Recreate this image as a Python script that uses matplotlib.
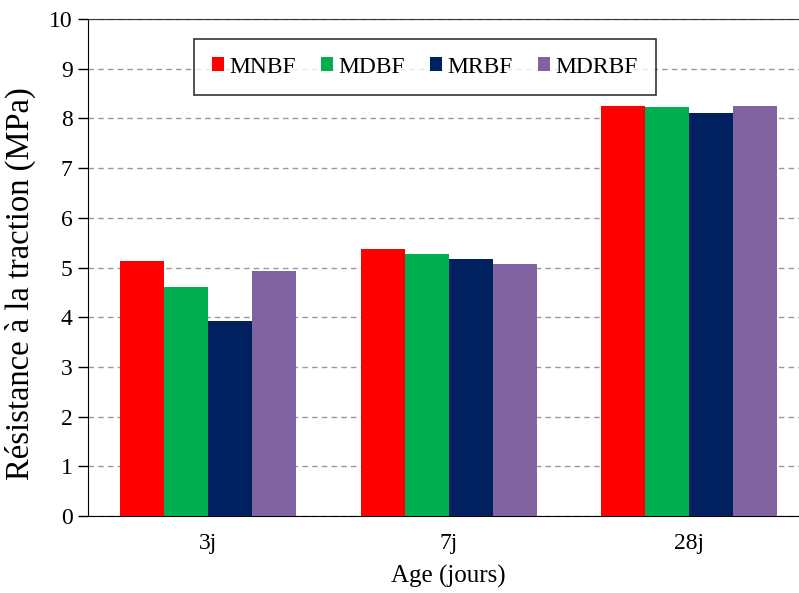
import matplotlib.pyplot as plt
import numpy as np

plt.rc('font', family='Liberation Serif', size=17)

ages = ['3j', '7j', '28j']
series = ['MNBF', 'MDBF', 'MRBF', 'MDRBF']
colors = ['#ff0000', '#00b050', '#002060', '#8064a2']
mnbf = [5.13, 5.37, 8.24]
mdbf = [4.60, 5.27, 8.22]
mrbf = [3.92, 5.18, 8.10]
mdrbf = [4.92, 5.08, 8.24]
values = [mnbf, mdbf, mrbf, mdrbf]

fig = plt.figure(figsize=(7.99, 5.93), dpi=100)
ax = fig.add_axes([88/799, 77/593, 721.5/799, 497/593])

x = np.arange(len(ages))
w = 0.183
for i, (name, vals) in enumerate(zip(series, values)):
    ax.bar(x + (i - 1.5)*w, vals, w, color=colors[i], label=name, zorder=3)

ax.set_xlim(-0.5, 2.5)
ax.set_ylim(0, 10)
ax.set_yticks(range(0, 11))
ax.set_xticks(x)
ax.set_xticklabels(ages)
ax.yaxis.grid(True, color='#999999', linestyle=(0, (4, 3)), linewidth=1, zorder=0)
ax.tick_params(axis='x', length=0, pad=12)
ax.tick_params(axis='y', direction='out', length=7, width=1, pad=4)
ax.spines['right'].set_visible(False)
ax.spines['top'].set_color('#333333')
ax.spines['left'].set_color('black')
ax.spines['bottom'].set_color('black')

ax.set_xlabel('Age (jours)', fontsize=18, labelpad=8)
ax.set_ylabel('Résistance à la traction (MPa)', fontsize=23.5)
ax.yaxis.set_label_coords(-0.072, 0.468)

leg = ax.legend(loc='upper left', bbox_to_anchor=(106/721.5, 0.96), ncol=4,
                fontsize=17, frameon=True, fancybox=False, edgecolor='black',
                handlelength=0.5, handleheight=0.5, handletextpad=0.25,
                columnspacing=1.05, borderpad=0.75, borderaxespad=0)
leg.get_frame().set_linewidth(1.2)

fig.savefig('out.png', dpi=100)
